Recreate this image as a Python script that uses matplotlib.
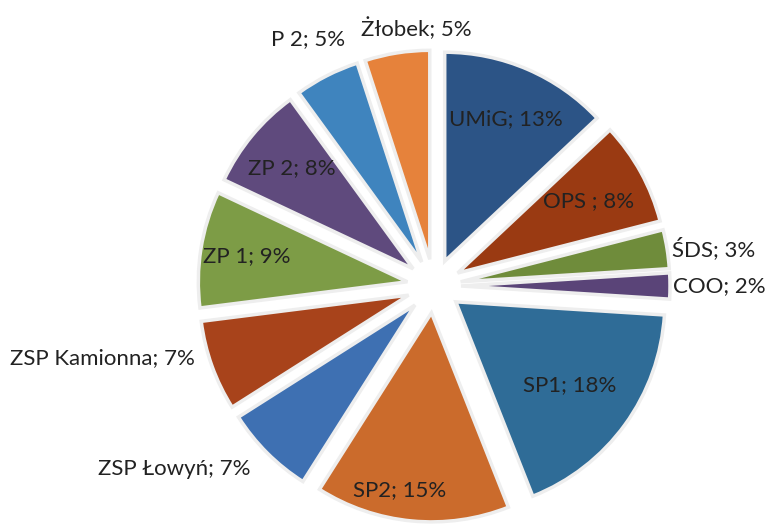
import matplotlib

matplotlib.use("Agg")
import numpy as np
import matplotlib.pyplot as plt

# data
labels = ["UMiG", "OPS ", "ŚDS", "COO", "SP1", "SP2", "ZSP Łowyń",
          "ZSP Kamionna", "ZP 1", "ZP 2", "P 2", "Żłobek"]
shares = [13, 8, 3, 2, 18, 15, 7, 7, 9, 8, 5, 5]
colors = ["#2C5486", "#9A3A12", "#6F8C3B", "#5A4478", "#2F6C97", "#CB6B2C",
          "#3E70B2", "#A8431B", "#7D9C46", "#5F4A7D", "#3F84BE", "#E6823B"]

# label placement: distance from centre (px), alignment, pixel nudge
label_pos = [(182, "center", 0, 0), (176, "center", 0, 0), (241, "left", 0, 0),
             (239, "left", 0, 0), (168, "center", 0, 0), (205, "center", -15, 0),
             (259, "right", 0, 0), (249, "right", -5, 12), (190, "center", 0, 0),
             (185, "center", 0, 0), (277, "center", 0, 0), (260, "center", 23, 0)]

W, H = 771, 528
cx, cy, R = 434, H - 286, 209
gap = 27  # explode distance in px (pie adds it in data units)

fig = plt.figure(figsize=(W / 100, H / 100), dpi=100)
ax = fig.add_axes([0, 0, 1, 1])
plt.rcParams["font.family"] = ["Lato", "DejaVu Sans"]

wedges, _ = ax.pie(shares, colors=colors, startangle=90, counterclock=False,
                   center=(cx, cy), radius=R, explode=[gap] * len(shares),
                   wedgeprops=dict(edgecolor="#eeeeee", linewidth=2.5))

for w, lab, val, (r, ha, dx, dy) in zip(wedges, labels, shares, label_pos):
    mid = np.deg2rad((w.theta1 + w.theta2) / 2)
    x = cx + r * np.cos(mid) + dx
    y = cy + r * np.sin(mid) + dy
    ax.text(x, y, f"{lab}; {val}%", ha=ha, va="center", fontsize=16,
            color="#222222")

ax.set_xlim(0, W)
ax.set_ylim(0, H)
ax.set_aspect("equal")
ax.axis("off")
fig.savefig("out.png", dpi=100)
